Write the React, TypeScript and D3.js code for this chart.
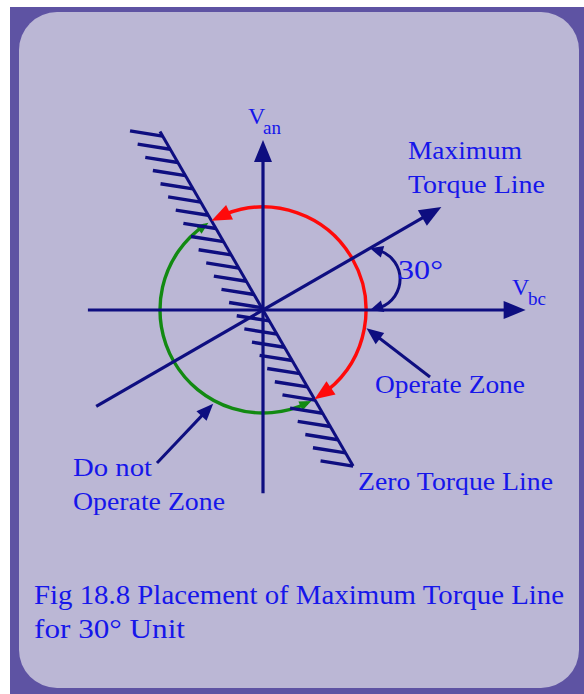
import React from 'react';
import * as d3 from 'd3';

const W = 584;
const H = 694;

// Diagram definition (angles in degrees, distances in units of the circle radius)
const hAxisExtent = [-1.7, 2.55];
const vAxisExtent = [-1.78, 1.65];
const maxTorqueAngle = 30;
const maxTorqueExtent = [-1.87, 2.0];
const zeroTorqueAngle = 120;
const zeroTorqueExtent = [-1.75, 2.0];
const operateZone = [120, -60];
const doNotOperateZone = [-60, -240];
const hatchCount = 26;
const hatchAngle = 171;
const hatchLength = 0.32;
const angleMarker = [1.2, 1.04];
const operatePointerAngle = -10;
const doNotPointerAngle = -118;

const axisNames = ['V', 'V'];
const axisSubs = ['an', 'bc'];
const maxTorqueLabel = ['Maximum', 'Torque Line'];
const angleLabel = ['30°'];
const zoneLabels = ['Operate Zone', 'Zero Torque Line', 'Do not', 'Operate Zone'];
const caption = ['Fig 18.8 Placement of Maximum Torque Line', 'for 30° Unit'];

const NAVY = '#0e0e80';
const RED = '#ff0a0a';
const GREEN = '#128a12';
const TEXT = '#1616ea';

const ox = 263;
const oy = 310;
const R = 103;
const sx = d3.scaleLinear().domain([0, 1]).range([ox, ox + R]);
const sy = d3.scaleLinear().domain([0, 1]).range([oy, oy - R]);

const rad = (d: number) => (d * Math.PI) / 180;
const polar = (deg: number, r: number): [number, number] => [
  sx(r * Math.cos(rad(deg))),
  sy(r * Math.sin(rad(deg))),
];

function head(tip: [number, number], from: [number, number], len: number, hw: number) {
  const dx = tip[0] - from[0];
  const dy = tip[1] - from[1];
  const l = Math.hypot(dx, dy) || 1;
  const ux = dx / l;
  const uy = dy / l;
  const bx = tip[0] - ux * len;
  const by = tip[1] - uy * len;
  const nx = -uy;
  const ny = ux;
  const p = d3.path();
  p.moveTo(tip[0], tip[1]);
  p.lineTo(bx + nx * hw, by + ny * hw);
  p.lineTo(bx - nx * hw, by - ny * hw);
  p.closePath();
  return p.toString();
}

function arcPath(a0deg: number, a1deg: number, trim0: number, trim1: number) {
  const p = d3.path();
  const s0 = -rad(a0deg) + trim0 / R;
  const s1 = -rad(a1deg) - trim1 / R;
  p.arc(ox, oy, R, s0, s1, false);
  return p.toString();
}

function linePath(a: [number, number], b: [number, number]) {
  const p = d3.path();
  p.moveTo(a[0], a[1]);
  p.lineTo(b[0], b[1]);
  return p.toString();
}

export default function App() {
  const serif = '"Liberation Serif", "Times New Roman", serif';

  const hA = linePath(polar(0, hAxisExtent[0]), polar(0, hAxisExtent[1] - 0.15));
  const hTip = polar(0, hAxisExtent[1]);
  const vA = linePath(polar(90, vAxisExtent[0]), polar(90, vAxisExtent[1] - 0.15));
  const vTip = polar(90, vAxisExtent[1]);
  const mA = linePath(polar(maxTorqueAngle, maxTorqueExtent[0]), polar(maxTorqueAngle, maxTorqueExtent[1] - 0.15));
  const mTip = polar(maxTorqueAngle, maxTorqueExtent[1]);
  const zA = linePath(polar(zeroTorqueAngle, zeroTorqueExtent[1]), polar(zeroTorqueAngle, zeroTorqueExtent[0]));

  const hatches = d3.range(hatchCount).map((i) => {
    const t = i / (hatchCount - 1);
    const r = zeroTorqueExtent[1] - 0.05 + t * (zeroTorqueExtent[0] - zeroTorqueExtent[1] + 0.05);
    const a = polar(zeroTorqueAngle, r);
    const b: [number, number] = [
      a[0] + hatchLength * R * Math.cos(rad(hatchAngle)),
      a[1] - hatchLength * R * Math.sin(rad(hatchAngle)),
    ];
    return linePath(a, b);
  });

  const redTrim = 16;
  const redArc = arcPath(operateZone[0], operateZone[1], redTrim, redTrim);
  const redTipA = polar(operateZone[0], 1);
  const redFromA = polar(operateZone[0] - (redTrim / R) * (180 / Math.PI), 1);
  const redTipB = polar(operateZone[1], 1);
  const redFromB = polar(operateZone[1] + (redTrim / R) * (180 / Math.PI), 1);

  const gTrim = 8;
  const greenArc = arcPath(doNotOperateZone[0], doNotOperateZone[1], gTrim, gTrim);
  const gTipA = polar(doNotOperateZone[0] - 2, 1);
  const gFromA = polar(doNotOperateZone[0] - 2 - (12 / R) * (180 / Math.PI), 1);
  const gTipB = polar(doNotOperateZone[1] + 2, 1);
  const gFromB = polar(doNotOperateZone[1] + 2 + (12 / R) * (180 / Math.PI), 1);

  const mkA = polar(maxTorqueAngle, angleMarker[0]);
  const mkB = polar(0, angleMarker[1]);
  const mkR = 30;
  const chord = Math.hypot(mkB[0] - mkA[0], mkB[1] - mkA[1]);
  const mx = (mkA[0] + mkB[0]) / 2;
  const my = (mkA[1] + mkB[1]) / 2;
  const hdist = Math.sqrt(Math.max(mkR * mkR - (chord / 2) ** 2, 0));
  const cux = (mkB[0] - mkA[0]) / chord;
  const cuy = (mkB[1] - mkA[1]) / chord;
  const ccx = mx + cuy * hdist;
  const ccy = my - cux * hdist;
  const phA = Math.atan2(mkA[1] - ccy, mkA[0] - ccx);
  const phB = Math.atan2(mkB[1] - ccy, mkB[0] - ccx);
  const mTrim = 11 / mkR;
  const mp = d3.path();
  mp.arc(ccx, ccy, mkR, phA + mTrim, phB - mTrim, false);
  const mkFromA: [number, number] = [ccx + mkR * Math.cos(phA + mTrim * 1.2), ccy + mkR * Math.sin(phA + mTrim * 1.2)];
  const mkFromB: [number, number] = [ccx + mkR * Math.cos(phB - mTrim * 1.2), ccy + mkR * Math.sin(phB - mTrim * 1.2)];

  const opTip = polar(operatePointerAngle, 1.02);
  const opTail: [number, number] = [430, 377];
  const dnTip = polar(doNotPointerAngle, 1.03);
  const dnTail: [number, number] = [157, 463];

  const shorten = (tip: [number, number], tail: [number, number], by: number): [number, number] => {
    const dx = tail[0] - tip[0];
    const dy = tail[1] - tip[1];
    const l = Math.hypot(dx, dy);
    return [tip[0] + (dx / l) * by, tip[1] + (dy / l) * by];
  };

  return (
    <svg
      width={W}
      height={H}
      viewBox={`0 0 ${W} ${H}`}
      style={{ position: 'absolute', left: 0, top: 0, display: 'block' }}
    >
      <rect x={0} y={0} width={W} height={H} fill="#ffffff" />
      <rect x={10} y={7} width={W - 10} height={H - 7} fill="#5e53a3" />
      <rect x={19} y={12} width={560} height={676} rx={38} ry={38} fill="#bbb7d5" />

      <path d={greenArc} fill="none" stroke={GREEN} strokeWidth={3.4} />
      <path d={head(gTipA, gFromA, 12, 5)} fill={GREEN} />
      <path d={head(gTipB, gFromB, 12, 5)} fill={GREEN} />

      <g stroke={NAVY} strokeWidth={3.4} strokeLinecap="butt">
        {hatches.map((d, i) => (
          <path key={i} d={d} />
        ))}
        <path d={zA} strokeWidth={3} />
      </g>

      <path d={redArc} fill="none" stroke={RED} strokeWidth={3.4} />

      <g stroke={NAVY} strokeWidth={3.2} fill="none">
        <path d={hA} />
        <path d={vA} />
        <path d={mA} />
      </g>
      <path d={head(hTip, polar(0, 0), 22, 9)} fill={NAVY} />
      <path d={head(vTip, polar(90, 0), 22, 9)} fill={NAVY} />
      <path d={head(mTip, polar(maxTorqueAngle, 0), 22, 9)} fill={NAVY} />

      <path d={head(redTipA, redFromA, 20, 8)} fill={RED} />
      <path d={head(redTipB, redFromB, 20, 8)} fill={RED} />

      <path d={mp.toString()} fill="none" stroke={NAVY} strokeWidth={3} />
      <path d={head(mkA, mkFromA, 13, 6)} fill={NAVY} />
      <path d={head(mkB, mkFromB, 13, 6)} fill={NAVY} />

      <path d={linePath(shorten(opTip, opTail, 12), opTail)} stroke={NAVY} strokeWidth={3} />
      <path d={head(opTip, opTail, 17, 7)} fill={NAVY} />
      <path d={linePath(shorten(dnTip, dnTail, 12), dnTail)} stroke={NAVY} strokeWidth={3} />
      <path d={head(dnTip, dnTail, 17, 7)} fill={NAVY} />

      <g fill={TEXT} fontFamily={serif}>
        <text x={248} y={124} fontSize={24}>{axisNames[0]}</text>
        <text x={263} y={134} fontSize={19}>{axisSubs[0]}</text>
        <text x={512} y={295} fontSize={24}>{axisNames[1]}</text>
        <text x={528} y={305} fontSize={19}>{axisSubs[1]}</text>

        <text x={408} y={159} fontSize={26} textLength={114} lengthAdjust="spacingAndGlyphs">{maxTorqueLabel[0]}</text>
        <text x={408} y={193} fontSize={26} textLength={137} lengthAdjust="spacingAndGlyphs">{maxTorqueLabel[1]}</text>
        <text x={398} y={279} fontSize={27} textLength={45} lengthAdjust="spacingAndGlyphs">{angleLabel[0]}</text>

        <text x={375} y={393} fontSize={26} textLength={150} lengthAdjust="spacingAndGlyphs">{zoneLabels[0]}</text>
        <text x={358} y={490} fontSize={26} textLength={195} lengthAdjust="spacingAndGlyphs">{zoneLabels[1]}</text>
        <text x={73} y={476} fontSize={26} textLength={79} lengthAdjust="spacingAndGlyphs">{zoneLabels[2]}</text>
        <text x={73} y={510} fontSize={26} textLength={152} lengthAdjust="spacingAndGlyphs">{zoneLabels[3]}</text>

        <text x={34} y={604} fontSize={27} textLength={530} lengthAdjust="spacingAndGlyphs">{caption[0]}</text>
        <text x={34} y={638} fontSize={27} textLength={151} lengthAdjust="spacingAndGlyphs">{caption[1]}</text>
      </g>
    </svg>
  );
}
